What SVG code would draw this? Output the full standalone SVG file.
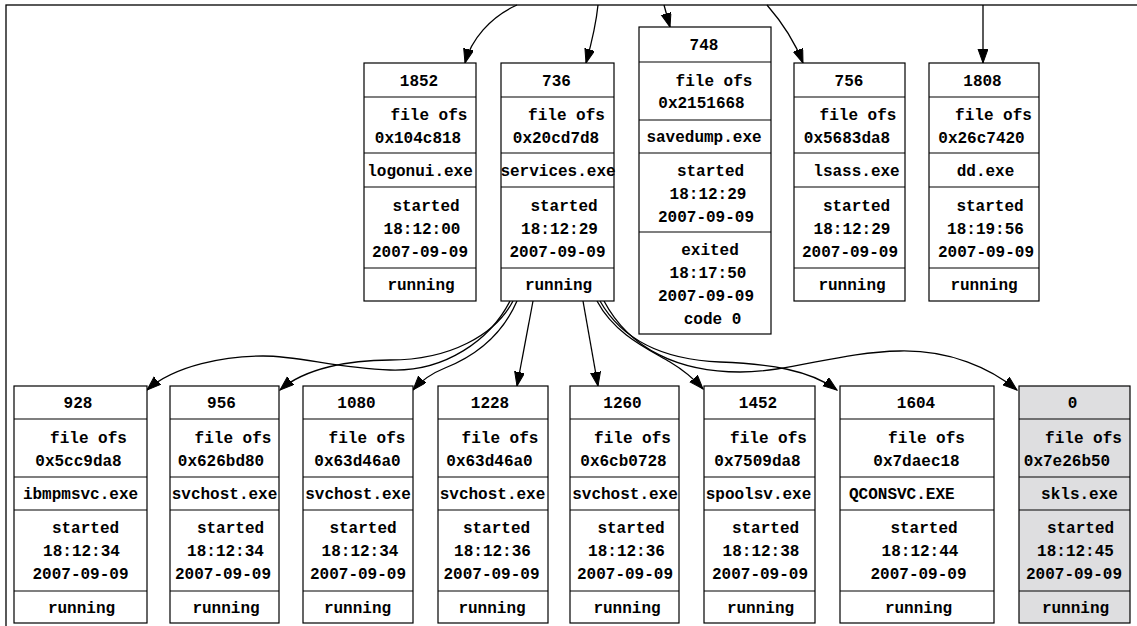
<svg xmlns="http://www.w3.org/2000/svg" width="1137" height="626" viewBox="0 0 1137 626">
<style>
.bx{fill:#ffffff;stroke:#000000;stroke-width:1.2}
.gr{fill:#dedee0;stroke:#000000;stroke-width:1.2}
.dv{fill:none;stroke:#000000;stroke-width:1.2}
text{font-family:"Nimbus Mono PS","Courier New","Liberation Mono","DejaVu Sans Mono",monospace;font-weight:bold;font-size:16px;text-anchor:middle;fill:#000000}
.e{fill:none;stroke:#000000;stroke-width:1.3}
</style>
<defs>
<marker id="ah" markerUnits="userSpaceOnUse" markerWidth="15" markerHeight="11" refX="14" refY="5" orient="auto">
<path d="M0,0 L14,5 L0,10 Z" fill="#000000" stroke="#000000" stroke-width="1"/>
</marker>
</defs>
<rect x="0" y="0" width="1137" height="626" fill="#ffffff"/>
<rect x="6" y="5" width="1300" height="800" fill="none" stroke="#000000" stroke-width="1.3"/>

<g id="connectors">
<path class="e" marker-end="url(#ah)" d="M517,5 C490,17 471,40 465,63"/>
<path class="e" marker-end="url(#ah)" d="M598,5 C596,25 591,45 586,63"/>
<path class="e" marker-end="url(#ah)" d="M664,5 C666,12 668,20 670,27"/>
<path class="e" marker-end="url(#ah)" d="M767,5 C780,20 795,42 803,63"/>
<path class="e" marker-end="url(#ah)" d="M983,5 L983,63"/>
<path class="e" marker-end="url(#ah)" d="M510,301 C490,340 445,372 390,370 C335,368 300,356 263,356 C226,356 175,365 147,390"/>
<path class="e" marker-end="url(#ah)" d="M513,301 C495,335 450,360 390,360 C350,360 305,368 280,390"/>
<path class="e" marker-end="url(#ah)" d="M517,301 C500,340 470,358 445,368 C430,374 420,382 413,390"/>
<path class="e" marker-end="url(#ah)" d="M533,301 L517,386"/>
<path class="e" marker-end="url(#ah)" d="M583,301 L598,386"/>
<path class="e" marker-end="url(#ah)" d="M597,301 C615,335 650,350 670,362 C685,371 695,380 703,389"/>
<path class="e" marker-end="url(#ah)" d="M600,301 C625,345 670,360 720,362 C770,364 810,370 837,390"/>
<path class="e" marker-end="url(#ah)" d="M604,301 C630,350 680,372 740,372 C790,372 840,352 900,351 C950,350 990,368 1017,390"/>
</g>

<g id="n1852">
<rect class="bx" x="364" y="63" width="112" height="238"/>
<path class="dv" d="M364,97H476M364,153H476M364,187H476M364,268H476"/>
<text x="419" y="86">1852</text>
<text x="429" y="119.5">file ofs</text>
<text x="418" y="142.5">0x104c818</text>
<text x="420" y="176">logonui.exe</text>
<text x="426" y="210.5">started</text>
<text x="422" y="233.5">18:12:00</text>
<text x="420" y="256.5">2007-09-09</text>
<text x="421" y="290">running</text>
</g>

<g id="n736">
<rect class="bx" x="501" y="63" width="113" height="238"/>
<path class="dv" d="M501,97H614M501,153H614M501,187H614M501,268H614"/>
<text x="556.5" y="86">736</text>
<text x="566.5" y="119.5">file ofs</text>
<text x="556" y="142.5">0x20cd7d8</text>
<text x="558" y="176">services.exe</text>
<text x="564" y="210.5">started</text>
<text x="559.5" y="233.5">18:12:29</text>
<text x="557.5" y="256.5">2007-09-09</text>
<text x="558.5" y="290">running</text>
</g>

<g id="n748">
<rect class="bx" x="639" y="27" width="132" height="307"/>
<path class="dv" d="M639,62H771M639,120H771M639,153H771M639,232H771"/>
<text x="704" y="50">748</text>
<text x="714" y="86">file ofs</text>
<text x="701.5" y="107.5">0x2151668</text>
<text x="704" y="142">savedump.exe</text>
<text x="710.5" y="176">started</text>
<text x="708" y="199">18:12:29</text>
<text x="706" y="222">2007-09-09</text>
<text x="710" y="255">exited</text>
<text x="708" y="278">18:17:50</text>
<text x="706" y="301">2007-09-09</text>
<text x="712.5" y="324">code 0</text>
</g>

<g id="n756">
<rect class="bx" x="794" y="63" width="111" height="238"/>
<path class="dv" d="M794,97H905M794,153H905M794,187H905M794,268H905"/>
<text x="849" y="86">756</text>
<text x="858" y="119.5">file ofs</text>
<text x="847" y="142.5">0x5683da8</text>
<text x="856.5" y="176">lsass.exe</text>
<text x="856.5" y="210.5">started</text>
<text x="852" y="233.5">18:12:29</text>
<text x="850" y="256.5">2007-09-09</text>
<text x="852" y="290">running</text>
</g>

<g id="n1808">
<rect class="bx" x="929" y="63" width="110" height="238"/>
<path class="dv" d="M929,97H1039M929,153H1039M929,187H1039M929,268H1039"/>
<text x="982.5" y="86">1808</text>
<text x="993.5" y="119.5">file ofs</text>
<text x="981.5" y="142.5">0x26c7420</text>
<text x="985.5" y="176">dd.exe</text>
<text x="990" y="210.5">started</text>
<text x="985.5" y="233.5">18:19:56</text>
<text x="986" y="256.5">2007-09-09</text>
<text x="984" y="290">running</text>
</g>

<g id="n928">
<rect class="bx" x="14" y="386" width="133" height="237"/>
<path class="dv" d="M14,419H147M14,477H147M14,510H147M14,591H147"/>
<text x="78" y="408">928</text>
<text x="88.5" y="442.5">file ofs</text>
<text x="78.5" y="465.5">0x5cc9da8</text>
<text x="80.5" y="499">ibmpmsvc.exe</text>
<text x="85.5" y="533">started</text>
<text x="81.5" y="556">18:12:34</text>
<text x="80.5" y="579">2007-09-09</text>
<text x="81.5" y="612.5">running</text>
</g>

<g id="n956">
<rect class="bx" x="170" y="386" width="109" height="237"/>
<path class="dv" d="M170,419H279M170,477H279M170,510H279M170,591H279"/>
<text x="221.5" y="408">956</text>
<text x="233" y="442.5">file ofs</text>
<text x="221" y="465.5">0x626bd80</text>
<text x="224.5" y="499">svchost.exe</text>
<text x="230.5" y="533">started</text>
<text x="225.5" y="556">18:12:34</text>
<text x="223" y="579">2007-09-09</text>
<text x="226" y="612.5">running</text>
</g>

<g id="n1080">
<rect class="bx" x="303" y="386" width="110" height="237"/>
<path class="dv" d="M303,419H413M303,477H413M303,510H413M303,591H413"/>
<text x="356.5" y="408">1080</text>
<text x="367" y="442.5">file ofs</text>
<text x="357.5" y="465.5">0x63d46a0</text>
<text x="358" y="499">svchost.exe</text>
<text x="363" y="533">started</text>
<text x="360" y="556">18:12:34</text>
<text x="358" y="579">2007-09-09</text>
<text x="357.5" y="612.5">running</text>
</g>

<g id="n1228">
<rect class="bx" x="438" y="386" width="110" height="237"/>
<path class="dv" d="M438,419H548M438,477H548M438,510H548M438,591H548"/>
<text x="490" y="408">1228</text>
<text x="500" y="442.5">file ofs</text>
<text x="489.5" y="465.5">0x63d46a0</text>
<text x="492.5" y="499">svchost.exe</text>
<text x="496.5" y="533">started</text>
<text x="492.5" y="556">18:12:36</text>
<text x="491.5" y="579">2007-09-09</text>
<text x="492" y="612.5">running</text>
</g>

<g id="n1260">
<rect class="bx" x="570" y="386" width="109" height="237"/>
<path class="dv" d="M570,419H679M570,477H679M570,510H679M570,591H679"/>
<text x="622.5" y="408">1260</text>
<text x="632.5" y="442.5">file ofs</text>
<text x="623.5" y="465.5">0x6cb0728</text>
<text x="625" y="499">svchost.exe</text>
<text x="631" y="533">started</text>
<text x="626.5" y="556">18:12:36</text>
<text x="625" y="579">2007-09-09</text>
<text x="627" y="612.5">running</text>
</g>

<g id="n1452">
<rect class="bx" x="704" y="386" width="111" height="237"/>
<path class="dv" d="M704,419H815M704,477H815M704,510H815M704,591H815"/>
<text x="758" y="408">1452</text>
<text x="768.5" y="442.5">file ofs</text>
<text x="757.5" y="465.5">0x7509da8</text>
<text x="758.5" y="499">spoolsv.exe</text>
<text x="765.5" y="533">started</text>
<text x="761" y="556">18:12:38</text>
<text x="760" y="579">2007-09-09</text>
<text x="760.5" y="612.5">running</text>
</g>

<g id="n1604">
<rect class="bx" x="840" y="386" width="154" height="237"/>
<path class="dv" d="M840,419H994M840,477H994M840,510H994M840,591H994"/>
<text x="916" y="408">1604</text>
<text x="926.5" y="442.5">file ofs</text>
<text x="916.5" y="465.5">0x7daec18</text>
<text x="849" y="499" style="text-anchor:start">QCONSVC.EXE</text>
<text x="924" y="533">started</text>
<text x="920" y="556">18:12:44</text>
<text x="918.5" y="579">2007-09-09</text>
<text x="918.5" y="612.5">running</text>
</g>

<g id="n0">
<rect class="gr" x="1019" y="386" width="111" height="237"/>
<path class="dv" d="M1019,419H1130M1019,477H1130M1019,510H1130M1019,591H1130"/>
<text x="1072.5" y="408">0</text>
<text x="1083.5" y="442.5">file ofs</text>
<text x="1067" y="465.5">0x7e26b50</text>
<text x="1079.5" y="499">skls.exe</text>
<text x="1080.5" y="533">started</text>
<text x="1075.5" y="556">18:12:45</text>
<text x="1074" y="579">2007-09-09</text>
<text x="1075.5" y="612.5">running</text>
</g>
</svg>
